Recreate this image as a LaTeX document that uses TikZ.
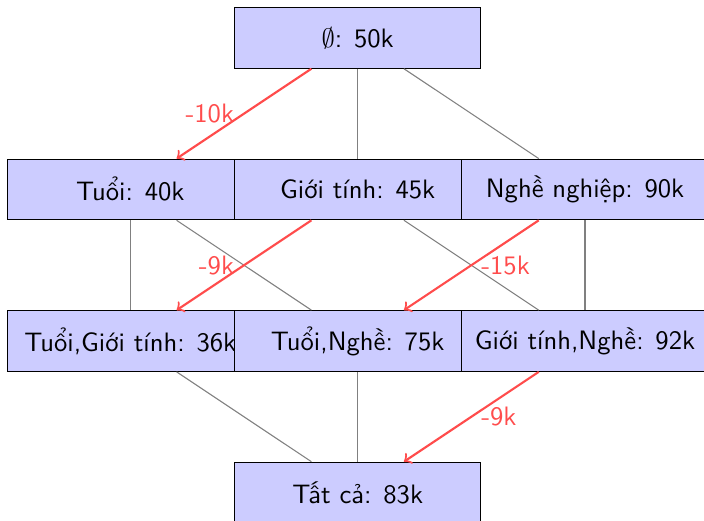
\documentclass[tikz,border=0pt]{standalone}
\usepackage{fontspec}
\usetikzlibrary{positioning}

\begin{document}
\begin{tikzpicture}[
  every node/.style={font=\sffamily},
  cell/.style={draw, fill=blue!20, rectangle, minimum width=3.25cm,
               minimum height=0.8cm, align=center},
  ln/.style={gray},
  cut/.style={->, thick, red!70},
  lbl/.style={text=red!70}]

\useasboundingbox (-4.72,-6.37) rectangle (4.57,0.5);

%% --- level 0 ---
\node[cell] (E)   at ( 0, 0) {$\emptyset$: 50k};

%% --- level 1 ---
\node[cell] (T)   at (-3,-2) {Tuổi: 40k};
\node[cell] (G)   at ( 0,-2) {Giới tính: 45k};
\node[cell] (N)   at ( 3,-2) {Nghề nghiệp: 90k};

%% --- level 2 ---
\node[cell] (TG)  at (-3,-4) {Tuổi,Giới tính: 36k};
\node[cell] (TN)  at ( 0,-4) {Tuổi,Nghề: 75k};
\node[cell] (GN)  at ( 3,-4) {Giới tính,Nghề: 92k};

%% --- level 3 ---
\node[cell] (ALL) at ( 0,-6) {Tất cả: 83k};

%% --- plain edges ---
\draw[ln] (E) -- (G);
\draw[ln] (E) -- (N);
\draw[ln] (T) -- (TG);
\draw[ln] (T) -- (TN);
\draw[ln] (G) -- (GN);
\draw[ln] (N) -- (GN);
\draw[ln] (TG) -- (ALL);
\draw[ln] (TN) -- (ALL);

%% --- chosen edges ---
\draw[cut] (E)  -- node[lbl,left]{-10k} (T);
\draw[cut] (G)  -- node[lbl,left]{-9k}  (TG);
\draw[cut] (N)  -- node[lbl,right]{-15k} (TN);
\draw[cut] (GN) -- node[lbl,right]{-9k}  (ALL);
\end{tikzpicture}
\end{document}
